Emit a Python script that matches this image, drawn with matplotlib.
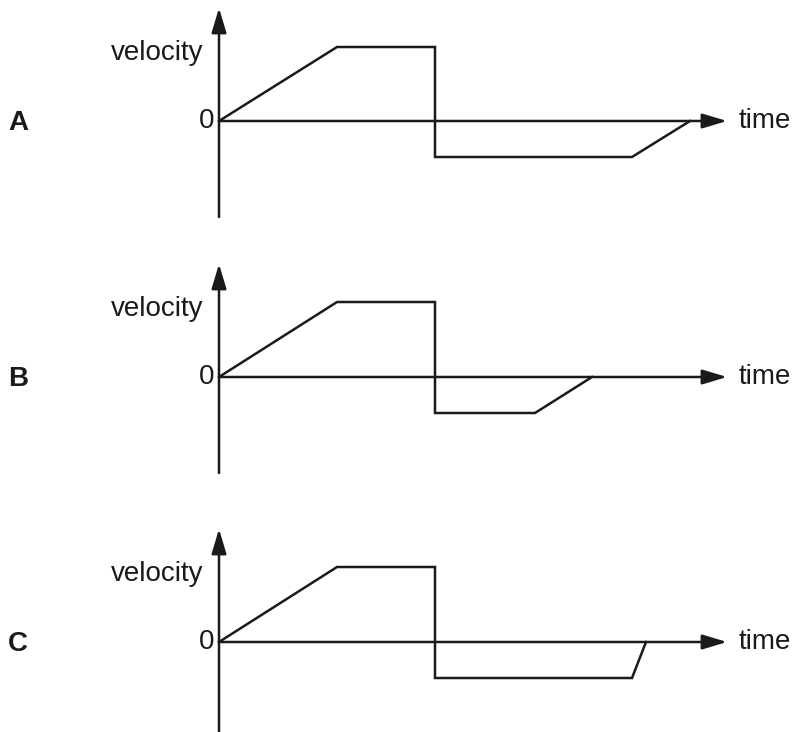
import matplotlib
matplotlib.use('Agg')
import matplotlib.pyplot as plt

plt.rcParams['font.family'] = ['Liberation Sans', 'DejaVu Sans']

# velocity-time graphs (arbitrary units, time axis to the right)
labels = ['A', 'B', 'C']
t_A = [0, 11.8, 21.6, 21.6, 41.3, 47.1]
v_A = [0, 7.4, 7.4, -3.6, -3.6, 0]
t_B = [0, 11.8, 21.6, 21.6, 31.6, 37.3]
v_B = [0, 7.5, 7.5, -3.6, -3.6, 0]
t_C = [0, 11.8, 21.6, 21.6, 41.3, 42.7]
v_C = [0, 7.5, 7.5, -3.6, -3.6, 0]
series = [(t_A, v_A), (t_B, v_B), (t_C, v_C)]

time_end = 50.8
vel_top = 11.3
vel_bottom = -9.6

W, H = 795, 732
fig = plt.figure(figsize=(W / 100, H / 100), dpi=100)

zeros_px = [121, 377, 642]  # vertical position of each time axis
for lab, (t, v), z in zip(labels, series, zeros_px):
    ax = fig.add_axes([0, (H - (z + 119)) / H, 1, 240 / H])
    ax.set_xlim(-21.9, 57.6)
    ax.set_ylim(-11.9, 12.1)
    ax.axis('off')

    arrow = dict(arrowstyle='-|>,head_length=1.0,head_width=0.3',
                 mutation_scale=15, color='#1a1a1a', lw=1.8,
                 shrinkA=0, shrinkB=0)
    ax.annotate('', xy=(time_end, 0), xytext=(0, 0), arrowprops=arrow)
    ax.annotate('', xy=(0, vel_top), xytext=(0, vel_bottom), arrowprops=arrow)

    ax.plot(t, v, color='#1a1a1a', lw=1.8, solid_joinstyle='miter')

    ax.text(-1.6, 6.8, 'velocity', ha='right', va='center', fontsize=20, color='#1a1a1a')
    ax.text(-0.5, 0, '0', ha='right', va='center', fontsize=20, color='#1a1a1a')
    ax.text(52.0, 0, 'time', ha='left', va='center', fontsize=20, color='#1a1a1a')
    ax.text(-21.1, -0.2, lab, ha='left', va='center', fontsize=20,
            fontweight='bold', color='#1a1a1a')

fig.savefig('out.png', dpi=100)
